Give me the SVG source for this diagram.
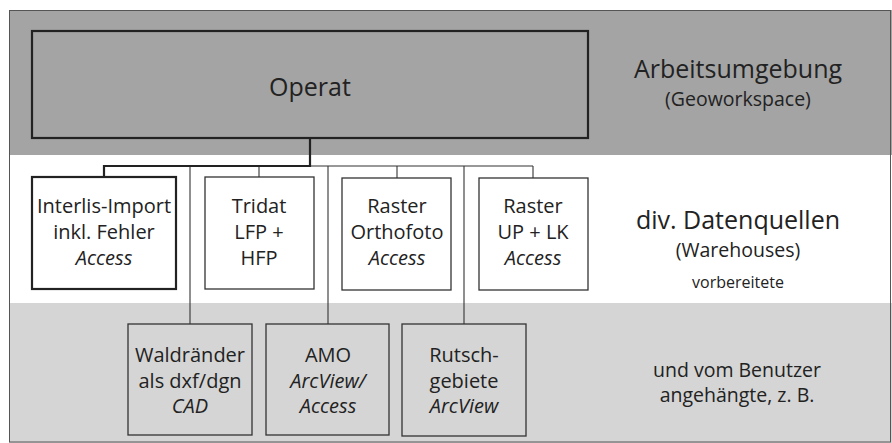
<svg xmlns="http://www.w3.org/2000/svg" width="892" height="443" viewBox="0 0 892 443">
  <style>
    text { font-family: "Open Sans", "Noto Sans", "DejaVu Sans", sans-serif; fill: #222; text-anchor: middle; }
    .title { font-size: 25px; }
    .sub { font-size: 19.5px; }
    .small { font-size: 16px; }
    .node { font-size: 20px; }
    .it { font-style: italic; }
    .box { fill: none; stroke: #333; stroke-width: 1.3; }
    .box-strong { fill: none; stroke: #222; stroke-width: 2.2; }
    .wire { fill: none; stroke: #333; stroke-width: 1.1; }
    .wire-strong { fill: none; stroke: #222; stroke-width: 2.2; }
  </style>

  <!-- background bands -->
  <rect x="0" y="0" width="892" height="443" fill="#ffffff"/>
  <rect x="9" y="10" width="883" height="145" fill="#a4a4a4"/>
  <rect x="9" y="155" width="883" height="148" fill="#ffffff"/>
  <rect x="9" y="303" width="883" height="140" fill="#d5d5d5"/>
  <rect x="9.5" y="10.5" width="881" height="431.5" fill="none" stroke="#555" stroke-width="1"/>

  <!-- band labels -->
  <g id="label-arbeitsumgebung">
    <text class="title" x="738" y="77.5">Arbeitsumgebung</text>
    <text class="sub" x="738" y="105.5">(Geoworkspace)</text>
  </g>
  <g id="label-datenquellen">
    <text class="title" x="738" y="229">div. Datenquellen</text>
    <text class="sub" x="738" y="257">(Warehouses)</text>
    <text class="small" x="738" y="288">vorbereitete</text>
  </g>
  <g id="label-benutzer">
    <text class="sub" x="737" y="377">und vom Benutzer</text>
    <text class="sub" x="737" y="402">angehängte, z. B.</text>
  </g>

  <!-- connectors -->
  <g id="connectors">
    <path class="wire" d="M310 166 H533"/>
    <path class="wire" d="M190 166 V324"/>
    <path class="wire" d="M328 166 V324"/>
    <path class="wire" d="M464 166 V324"/>
    <path class="wire" d="M259 166 V177"/>
    <path class="wire" d="M397 166 V178"/>
    <path class="wire" d="M533 166 V178"/>
    <path class="wire-strong" d="M310 138 V166 H104 V177"/>
  </g>

  <!-- workspace node -->
  <g id="operat">
    <rect class="box-strong" x="32" y="31" width="556" height="107" fill="#a4a4a4"/>
    <text class="title" x="310" y="96">Operat</text>
  </g>

  <!-- prepared data sources -->
  <g id="interlis">
    <rect class="box-strong" x="32" y="177" width="144" height="112" fill="#ffffff"/>
    <text class="node" x="104" y="213">Interlis-Import</text>
    <text class="node" x="104" y="239">inkl. Fehler</text>
    <text class="node it" x="104" y="265">Access</text>
  </g>
  <g id="tridat">
    <rect class="box" x="205" y="177" width="109" height="112" fill="#ffffff"/>
    <text class="node" x="259" y="213">Tridat</text>
    <text class="node" x="259" y="239">LFP +</text>
    <text class="node" x="259" y="265">HFP</text>
  </g>
  <g id="raster-orthofoto">
    <rect class="box" x="342" y="178" width="109" height="112" fill="#ffffff"/>
    <text class="node" x="397" y="213">Raster</text>
    <text class="node" x="397" y="239">Orthofoto</text>
    <text class="node it" x="397" y="265">Access</text>
  </g>
  <g id="raster-up-lk">
    <rect class="box" x="479" y="178" width="109" height="112" fill="#ffffff"/>
    <text class="node" x="533" y="213">Raster</text>
    <text class="node" x="533" y="239">UP + LK</text>
    <text class="node it" x="533" y="265">Access</text>
  </g>

  <!-- user-attached data sources -->
  <g id="waldraender">
    <rect class="box" x="128" y="324" width="124" height="111" fill="#d5d5d5"/>
    <text class="node" x="190" y="362">Waldränder</text>
    <text class="node" x="190" y="388">als dxf/dgn</text>
    <text class="node it" x="190" y="413">CAD</text>
  </g>
  <g id="amo">
    <rect class="box" x="266" y="324" width="123" height="111" fill="#d5d5d5"/>
    <text class="node" x="328" y="362">AMO</text>
    <text class="node it" x="328" y="388">ArcView/</text>
    <text class="node it" x="328" y="413">Access</text>
  </g>
  <g id="rutschgebiete">
    <rect class="box" x="402" y="324" width="124" height="112" fill="#d5d5d5"/>
    <text class="node" x="464" y="362">Rutsch-</text>
    <text class="node" x="464" y="388">gebiete</text>
    <text class="node it" x="464" y="413">ArcView</text>
  </g>
</svg>
